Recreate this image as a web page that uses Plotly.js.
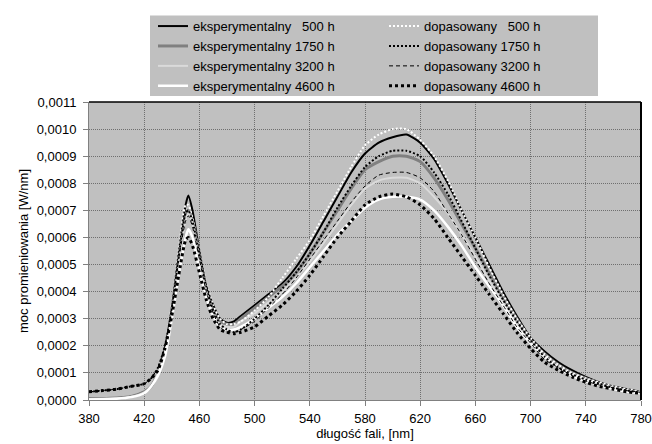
<!DOCTYPE html>
<html>
<head>
<meta charset="utf-8">
<script src="https://cdn.plot.ly/plotly-3.0.1.min.js"></script>
<style>html,body{margin:0;padding:0;background:#fff;}#chart{width:652px;height:444px;}</style>
</head>
<body>
<div id="chart"></div>
<script>
const wavelength = [380,390,400,410,420,425,430,435,440,445,450,452,455,460,465,470,475,480,485,490,500,510,520,530,540,550,560,570,580,590,600,610,620,630,640,650,660,670,680,690,700,710,720,730,740,750,760,770,780];

const exp500 = [0.000005,0.000005,0.000007,0.000012,0.00003,0.00005,0.0001,0.00019,0.00034,0.00054,0.00072,0.000755,0.0007,0.00055,0.00042,0.00035,0.0003,0.000285,0.00029,0.00031,0.00035,0.00039,0.00043,0.00049,0.00057,0.00066,0.00075,0.00084,0.00091,0.00095,0.00097,0.00098,0.00095,0.00089,0.0008,0.0007,0.0006,0.0005,0.0004,0.00031,0.00023,0.00018,0.00014,0.00011,0.000085,0.000065,0.00005,0.00004,0.00003];
const exp1750 = [0.000005,0.000005,0.000007,0.000012,0.00003,0.00005,0.0001,0.00018,0.00032,0.0005,0.00067,0.0007,0.00066,0.00052,0.0004,0.00033,0.00029,0.00028,0.00028,0.0003,0.00034,0.00038,0.00042,0.00047,0.00054,0.00062,0.0007,0.00078,0.00085,0.00088,0.0009,0.0009,0.00088,0.00082,0.00074,0.00065,0.00056,0.00047,0.00038,0.0003,0.00022,0.00017,0.00013,0.0001,0.00008,0.00006,0.000045,0.000035,0.000028];
const exp3200 = [0.000004,0.000005,0.000006,0.000011,0.000028,0.00005,0.0001,0.00018,0.00032,0.0005,0.00066,0.00069,0.00065,0.00051,0.0004,0.00032,0.00028,0.00027,0.00027,0.00029,0.00032,0.00036,0.0004,0.00045,0.00051,0.00058,0.00065,0.00072,0.00078,0.00081,0.00082,0.00082,0.0008,0.00075,0.00069,0.00061,0.00053,0.00044,0.00036,0.00028,0.00021,0.00016,0.00012,0.000095,0.000075,0.00006,0.000045,0.000035,0.000028];
const exp4600 = [0.000002,0.000003,0.000005,0.00001,0.000025,0.00005,0.00009,0.00016,0.0003,0.00046,0.0006,0.00063,0.0006,0.00048,0.00038,0.00031,0.00027,0.00026,0.00026,0.00027,0.0003,0.00034,0.00038,0.00043,0.00049,0.00055,0.00061,0.00066,0.00071,0.00074,0.00075,0.00075,0.00074,0.0007,0.00064,0.00057,0.00049,0.00042,0.00035,0.00027,0.00021,0.00016,0.00012,0.00009,0.00007,0.000055,0.00004,0.00003,0.000025];

const fit500 = [0.00003,0.000035,0.00004,0.00005,0.00006,0.00008,0.00012,0.0002,0.00035,0.00055,0.00072,0.00072,0.00067,0.00055,0.00043,0.00035,0.0003,0.00028,0.00028,0.00029,0.00033,0.00038,0.00045,0.00052,0.00059,0.00068,0.00077,0.00086,0.00094,0.00098,0.001,0.001,0.00096,0.0009,0.00081,0.0007,0.0006,0.00049,0.00039,0.0003,0.00023,0.00017,0.00013,0.0001,0.00008,0.000065,0.00005,0.00004,0.00003];
const fit1750 = [0.00003,0.000035,0.00004,0.00005,0.00006,0.00008,0.00012,0.0002,0.00034,0.00053,0.00069,0.0007,0.00066,0.00054,0.00042,0.00033,0.00028,0.00026,0.00025,0.00026,0.0003,0.00035,0.00041,0.00047,0.00054,0.00062,0.00071,0.00079,0.00086,0.0009,0.00092,0.00092,0.0009,0.00084,0.00076,0.00066,0.00056,0.00046,0.00037,0.00029,0.00022,0.00016,0.00012,0.000095,0.000075,0.00006,0.000045,0.000035,0.000028];
const fit3200 = [0.00003,0.000035,0.00004,0.00005,0.00006,0.00008,0.00012,0.0002,0.00034,0.00052,0.00066,0.00068,0.00064,0.00052,0.0004,0.00032,0.00027,0.00025,0.00025,0.00026,0.00029,0.00034,0.00039,0.00045,0.00052,0.00059,0.00066,0.00073,0.00079,0.00083,0.00084,0.00084,0.00082,0.00077,0.00069,0.00061,0.00052,0.00043,0.00035,0.00027,0.00021,0.00015,0.00012,0.00009,0.00007,0.000055,0.000045,0.000035,0.000028];
const fit4600 = [0.00003,0.000035,0.00004,0.00005,0.00006,0.00008,0.00011,0.00019,0.00031,0.00046,0.00059,0.0006,0.00057,0.00047,0.00037,0.0003,0.00026,0.00025,0.000245,0.00025,0.00027,0.00031,0.00035,0.0004,0.00046,0.00053,0.0006,0.00066,0.00072,0.00075,0.00076,0.00075,0.00072,0.00067,0.0006,0.00053,0.00046,0.00039,0.00032,0.00025,0.00019,0.00014,0.00011,0.000085,0.000065,0.00005,0.00004,0.00003,0.000025];

const names = {
  exp500: 'eksperymentalny\u00a0\u00a0\u00a0500 h',
  exp1750: 'eksperymentalny 1750 h',
  exp3200: 'eksperymentalny 3200 h',
  exp4600: 'eksperymentalny 4600 h',
  fit500: 'dopasowany\u00a0\u00a0\u00a0500 h',
  fit1750: 'dopasowany 1750 h',
  fit3200: 'dopasowany 3200 h',
  fit4600: 'dopasowany 4600 h'
};

function tr(y, name, color, width, dash, legend) {
  return {x: wavelength, y: y, name: name, type: 'scatter', mode: 'lines',
    line: {color: color, width: width, dash: dash, shape: 'spline', smoothing: 0.6},
    legend: legend, hoverinfo: 'skip'};
}

const data = [
  tr(exp500, names.exp500, '#000000', 2, 'solid', 'legend'),
  tr(exp1750, names.exp1750, '#808080', 3, 'solid', 'legend'),
  tr(exp3200, names.exp3200, '#dadada', 2, 'solid', 'legend'),
  tr(exp4600, names.exp4600, '#ffffff', 2.5, 'solid', 'legend'),
  tr(fit500, names.fit500, '#ffffff', 2, '2px,2px', 'legend2'),
  tr(fit1750, names.fit1750, '#000000', 2, '2px,2px', 'legend2'),
  tr(fit3200, names.fit3200, '#000000', 1, '4px,3px', 'legend2'),
  tr(fit4600, names.fit4600, '#000000', 3, '3px,3px', 'legend2')
];

const F = 'Liberation Sans, Arial, sans-serif';
const layout = {
  width: 652, height: 444,
  margin: {l: 89, r: 11, t: 100, b: 44},
  paper_bgcolor: '#ffffff',
  plot_bgcolor: '#c0c0c0',
  separators: ', ',
  font: {family: F, size: 13, color: '#000'},
  showlegend: true,
  xaxis: {
    range: [380, 780], dtick: 40, tick0: 380,
    showgrid: true, gridcolor: '#6f6f6f', griddash: '1px,1px', gridwidth: 1,
    showline: true, linecolor: '#808080', linewidth: 1,
    ticks: 'outside', ticklen: 5, tickcolor: '#808080',
    ticklabelstandoff: 1,
    tickfont: {family: F, size: 13},
    zeroline: false,
    title: {text: 'długość fali, [nm]', font: {family: F, size: 13}, standoff: 1}
  },
  yaxis: {
    range: [0, 0.0011], dtick: 0.0001, tick0: 0,
    tickformat: '.4f',
    showgrid: true, gridcolor: '#6f6f6f', griddash: '1px,1px', gridwidth: 1,
    showline: true, linecolor: '#808080', linewidth: 1,
    ticks: 'outside', ticklen: 5, tickcolor: '#808080',
    ticklabelstandoff: 4,
    tickfont: {family: F, size: 13},
    zeroline: false,
    title: {text: 'moc promieniowania [W/nm]', font: {family: F, size: 13}, standoff: 5}
  },
  legend: {
    x: (153 - 89) / 552, y: (400 - 8.5) / 300, xanchor: 'left', yanchor: 'top',
    bgcolor: 'rgba(0,0,0,0)', borderwidth: 0,
    font: {family: F, size: 13}, tracegroupgap: 0
  },
  legend2: {
    x: (384 - 89) / 552, y: (400 - 8.5) / 300, xanchor: 'left', yanchor: 'top',
    bgcolor: 'rgba(0,0,0,0)', borderwidth: 0,
    font: {family: F, size: 13}, tracegroupgap: 0
  },
  shapes: [
    {type: 'rect', xref: 'paper', yref: 'paper', layer: 'below',
     x0: (150 - 89) / 552, x1: (598 - 89) / 552, y0: (400 - 94) / 300, y1: (400 - 13) / 300,
     fillcolor: '#c0c0c0', line: {width: 0}},
    {type: 'line', xref: 'paper', yref: 'paper', x0: 0, x1: 1, y0: 1, y1: 1,
     line: {color: '#000000', width: 1.5}},
    {type: 'line', xref: 'paper', yref: 'paper', x0: 1, x1: 1, y0: 0, y1: 1,
     line: {color: '#000000', width: 2}}
  ]
};

Plotly.newPlot('chart', data, layout, {staticPlot: true, displayModeBar: false});
</script>
</body>
</html>
